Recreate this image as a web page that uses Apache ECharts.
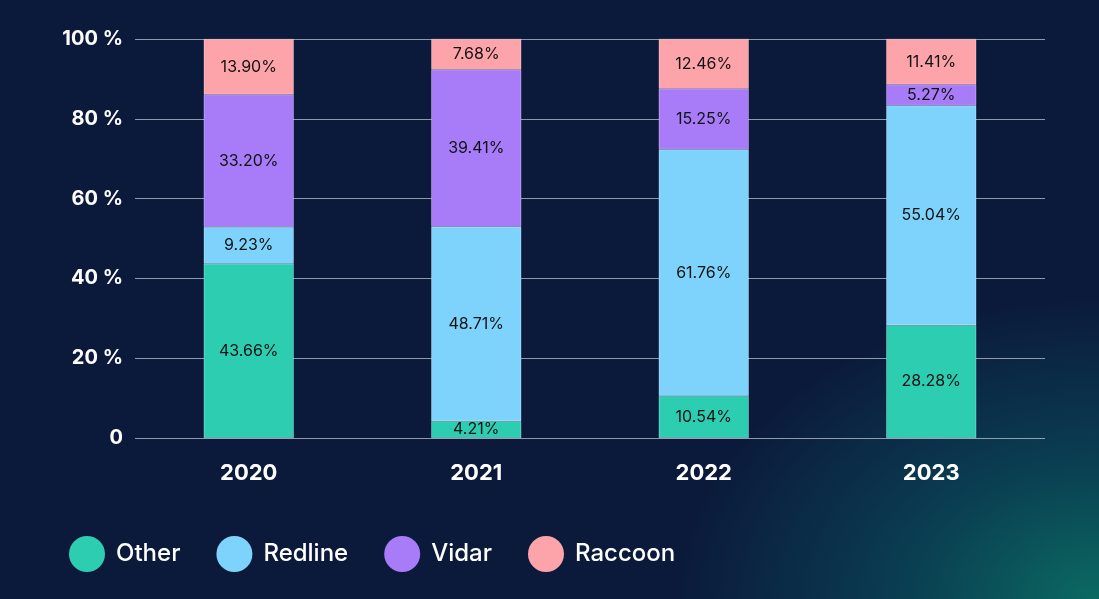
<!DOCTYPE html>
<html>
<head>
<meta charset="utf-8">
<script src="https://cdn.jsdelivr.net/npm/echarts@6/dist/echarts.min.js"></script>
<style>
html,body{margin:0;padding:0;}
#chart{width:1099px;height:599px;background:radial-gradient(ellipse 420px 300px at 1099px 599px,#0b6a62 0%,#0a3f52 45%,#0b1a3b 100%);}
</style>
</head>
<body>
<div id="chart"></div>
<script>
var years = ['2020','2021','2022','2023'];
var other = [43.66, 4.21, 10.54, 28.28];
var redline = [9.23, 48.71, 61.76, 55.04];
var vidar = [33.20, 39.41, 15.25, 5.27];
var raccoon = [13.90, 7.68, 12.46, 11.41];

var myChart = echarts.init(document.getElementById('chart'));

function mk(name, data, color){
	return {
		name: name,
		type: 'bar',
		stack: 'all',
		barWidth: 90,
		data: data,
		itemStyle: { color: color, borderColor: 'rgba(255,255,255,0.6)', borderWidth: 0.5 },
		label: {
			show: true,
			position: 'inside',
			color: '#111',
			fontSize: 16,
			fontFamily: 'Inter',
			formatter: function(p){ return p.value.toFixed(2) + '%'; }
		}
	};
}

var option = {
	animation: false,
	grid: { left: 135, right: 54, top: 39, bottom: 161 },
	legend: {
		left: 64, top: 531,
		itemWidth: 36, itemHeight: 36, itemGap: 36,
		icon: 'circle',
		itemStyle: { borderWidth: 0 },
		textStyle: { color: '#fff', fontSize: 24, fontFamily: 'Inter', fontWeight: 500, padding: [0,0,0,6] },
		data: ['Other','Redline','Vidar','Raccoon']
	},
	xAxis: {
		type: 'category',
		data: years,
		axisLine: { show: false },
		axisTick: { show: false },
		axisLabel: { color: '#fff', fontSize: 22, fontWeight: 'bold', fontFamily: 'Inter', margin: 24 }
	},
	yAxis: {
		type: 'value',
		min: 0, max: 100, interval: 20,
		axisLabel: {
			color: '#fff', fontSize: 20, fontWeight: 'bold', fontFamily: 'Inter', margin: 12,
			formatter: function(v){ return v === 0 ? '0' : v + ' %'; }
		},
		splitLine: { lineStyle: { color: 'rgba(200,205,220,0.7)', width: 1 } }
	},
	series: [
		mk('Other', other, '#2dcdb2'),
		mk('Redline', redline, '#7dd3fc'),
		mk('Vidar', vidar, '#a87cf9'),
		mk('Raccoon', raccoon, '#fda4aa')
	]
};
myChart.setOption(option);
</script>
</body>
</html>
